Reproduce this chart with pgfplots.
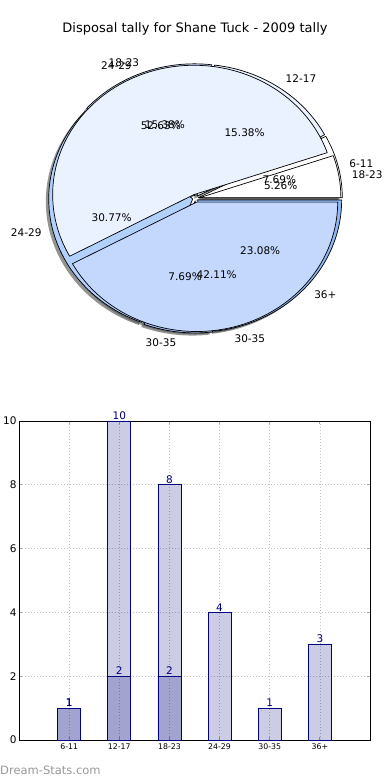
\documentclass[border=0pt]{standalone}
\usepackage{fontspec}
\setmainfont{DejaVu Sans}
\usepackage{pgfplots}
\pgfplotsset{compat=1.18}
\definecolor{pcA}{HTML}{FFFFFF}
\definecolor{pcB}{HTML}{EBF2FF}
\definecolor{pcC}{HTML}{C4D8FE}
\definecolor{pcD}{HTML}{B1D0FC}
\definecolor{pcE}{HTML}{9FC3F7}
\definecolor{pcF}{HTML}{8EB7F2}
\definecolor{navyc}{HTML}{000080}
\definecolor{shadowc}{gray}{0.3}
% pie 1 values (6-11,12-17,18-23,24-29,30-35,36+)
\def\va{1}\def\vb{2}\def\vc{2}\def\vd{4}\def\ve{1}\def\vf{3}
% pie 2 values
\def\wa{1}\def\wb{10}\def\wc{8}
\pgfmathsetmacro\tv{\va+\vb+\vc+\vd+\ve+\vf}
\pgfmathsetmacro\aA{0}
\pgfmathsetmacro\aB{360*\va/\tv}
\pgfmathsetmacro\aC{360*(\va+\vb)/\tv}
\pgfmathsetmacro\aD{360*(\va+\vb+\vc)/\tv}
\pgfmathsetmacro\aE{360*(\va+\vb+\vc+\vd)/\tv}
\pgfmathsetmacro\aF{360*(\va+\vb+\vc+\vd+\ve)/\tv}
\pgfmathsetmacro\aG{360}
\pgfmathsetmacro\tw{\wa+\wb+\wc}
\pgfmathsetmacro\bA{0}
\pgfmathsetmacro\bB{360*\wa/\tw}
\pgfmathsetmacro\bC{360*(\wa+\wb)/\tw}
\pgfmathsetmacro\bD{360}
% start, end, explode, radius factor
\newcommand\pieshadow[4]{%
 \path[fill=shadowc, fill opacity=0.6]
  (axis cs:{-0.02+#3*cos((#1+#2)/2)},{-0.02+#3*sin((#1+#2)/2)})
  -- (axis cs:{-0.02+#3*cos((#1+#2)/2)+#4*cos(#1)},{-0.02+#3*sin((#1+#2)/2)+#4*sin(#1)})
  arc[start angle=#1, end angle=#2, x radius=#4*144pt, y radius=#4*132pt] -- cycle;}
% start, end, explode, color, radius factor
\newcommand\piewedge[5]{%
 \path[fill=#4, draw=black, line width=0.7pt, line join=round]
  (axis cs:{#3*cos((#1+#2)/2)},{#3*sin((#1+#2)/2)})
  -- (axis cs:{#3*cos((#1+#2)/2)+#5*cos(#1)},{#3*sin((#1+#2)/2)+#5*sin(#1)})
  arc[start angle=#1, end angle=#2, x radius=#5*144pt, y radius=#5*132pt] -- cycle;}
% start, end, distance, anchor, text
\newcommand\pielabel[5]{%
 \node[anchor=#4, inner sep=0pt, font=\fontsize{10.5}{12}\selectfont]
  at (axis cs:{#3*cos((#1+#2)/2)},{#3*sin((#1+#2)/2)}) {#5};}
\begin{document}
\begin{tikzpicture}
\useasboundingbox (0,0) rectangle (390pt,780pt);
\fill[white] (0,0) rectangle (390pt,780pt);
\node[font=\fontsize{13}{15}\selectfont] at (195pt,750.7pt) {Disposal tally for Shane Tuck - 2009 tally};
% ---------------- pie chart ----------------
\begin{axis}[at={(0pt,390pt)}, anchor=south west, scale only axis,
  width=390pt, height=390pt,
  xmin=-1.357639, xmax=1.350694, ymin=-1.452273, ymax=1.502273,
  hide axis, clip=false]
% shadows
\pieshadow{\aA}{\aB}{0.02}{1}
\pieshadow{\aB}{\aC}{0.02}{1}
\pieshadow{\aC}{\aD}{0.02}{1}
\pieshadow{\aD}{\aE}{0.02}{1}
\pieshadow{\aE}{\aF}{0.02}{1}
\pieshadow{\aF}{\aG}{0.02}{1}
\pieshadow{\bA}{\bB}{0.03}{0.98}
\pieshadow{\bB}{\bC}{0.03}{0.98}
\pieshadow{\bC}{\bD}{0.03}{0.98}
% pie 1
\piewedge{\aA}{\aB}{0.02}{pcA}{1}
\piewedge{\aB}{\aC}{0.02}{pcB}{1}
\piewedge{\aC}{\aD}{0.02}{pcC}{1}
\piewedge{\aD}{\aE}{0.02}{pcD}{1}
\piewedge{\aE}{\aF}{0.02}{pcE}{1}
\piewedge{\aF}{\aG}{0.02}{pcF}{1}
% pie 2
\piewedge{\bA}{\bB}{0.03}{pcA}{0.98}
\piewedge{\bB}{\bC}{0.03}{pcB}{0.98}
\piewedge{\bC}{\bD}{0.03}{pcC}{0.98}
% pie 1 texts
\pielabel{\aA}{\aB}{1.1}{west}{6-11}
\pielabel{\aB}{\aC}{1.1}{west}{12-17}
\pielabel{\aC}{\aD}{1.1}{east}{18-23}
\pielabel{\aD}{\aE}{1.1}{east}{24-29}
\pielabel{\aE}{\aF}{1.1}{east}{30-35}
\pielabel{\aF}{\aG}{1.1}{west}{36+}
\pielabel{\aA}{\aB}{0.6}{center}{7.69\%}
\pielabel{\aB}{\aC}{0.6}{center}{15.38\%}
\pielabel{\aC}{\aD}{0.6}{center}{15.38\%}
\pielabel{\aD}{\aE}{0.6}{center}{30.77\%}
\pielabel{\aE}{\aF}{0.6}{center}{7.69\%}
\pielabel{\aF}{\aG}{0.6}{center}{23.08\%}
% pie 2 texts
\pielabel{\bA}{\bB}{1.1}{west}{18-23}
\pielabel{\bB}{\bC}{1.1}{east}{24-29}
\pielabel{\bC}{\bD}{1.1}{west}{30-35}
\pielabel{\bA}{\bB}{0.6}{center}{5.26\%}
\pielabel{\bB}{\bC}{0.6}{center}{52.63\%}
\pielabel{\bC}{\bD}{0.6}{center}{42.11\%}
\end{axis}
% ---------------- bar chart ----------------
\begin{axis}[at={(19pt,40pt)}, anchor=south west, scale only axis,
  width=351pt, height=319pt,
  xmin=-1, xmax=6, ymin=0, ymax=10, clip=false,
  xtick={0,1,2,3,4,5}, xticklabels={6-11,12-17,18-23,24-29,30-35,36+},
  ytick={0,2,4,6,8,10},
  /pgf/number format/assume math mode=true,
  xticklabel style={font=\fontsize{7.8}{9}\selectfont},
  yticklabel style={font=\fontsize{10.5}{12}\selectfont, xshift=1pt},
  grid=major,
  major grid style={draw=gray!50, line width=0.7pt, dash pattern=on 1.2pt off 1.8pt},
  major tick length=3pt, tick align=inside, tick style={gray!70, line width=0.8pt},
  axis line style={line width=0.8pt},
  every node near coord/.append style={text=navyc, text opacity=1,
    font=\fontsize{10.5}{12}\selectfont, anchor=south, inner sep=1pt}]
\addplot[ybar, bar width=0.46, bar shift=0pt, fill=navyc, fill opacity=0.2,
  draw=navyc, line width=0.7pt, nodes near coords]
  coordinates {(0,1) (1,2) (2,2) (3,4) (4,1) (5,3)};
\addplot[ybar, bar width=0.46, bar shift=0pt, fill=navyc, fill opacity=0.2,
  draw=navyc, line width=0.7pt, nodes near coords]
  coordinates {(0,1) (1,10) (2,8)};
\end{axis}
\node[anchor=west, inner sep=0pt, text=gray!80, font=\fontsize{11.5}{13}\selectfont] at (0pt,10pt) {Dream-Stats.com};
\end{tikzpicture}
\end{document}
